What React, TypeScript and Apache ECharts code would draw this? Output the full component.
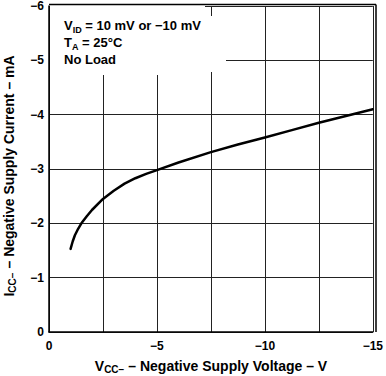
import React, { useEffect, useRef } from "react";
import * as echarts from "echarts";

const voltage = [-1.0, -1.1, -1.2, -1.35, -1.5, -1.75, -2.0, -2.5, -3.0, -3.5, -4.0, -4.5, -5.0, -6.0, -7.5, -8.75, -10, -11.25, -12.5, -13.75, -15];
const current = [-1.53, -1.67, -1.78, -1.9, -2.0, -2.13, -2.25, -2.45, -2.6, -2.73, -2.83, -2.91, -2.98, -3.12, -3.31, -3.45, -3.58, -3.715, -3.85, -3.975, -4.1];
const xTicks = [0, -5, -10, -15];
const yTicks = [0, -1, -2, -3, -4, -5, -6];

const FONT = "'Liberation Sans', Arial, Helvetica, sans-serif";
const fmt = (v: number) => (v === 0 ? "0" : "\u2212" + Math.abs(v));

export default function App() {
  const ref = useRef<HTMLDivElement>(null);
  useEffect(() => {
    if (!ref.current) return;
    const chart = echarts.init(ref.current, undefined, { renderer: "svg" });
    const lineStyle = { color: "#222", width: 1 };
    const nameRich = {
      a: { fontSize: 14, fontWeight: "bold", fill: "#000", fontFamily: FONT, lineHeight: 17 },
      s: { fontSize: 10, fontWeight: "bold", fill: "#000", fontFamily: FONT, lineHeight: 17, verticalAlign: "bottom", padding: [6, 0, 0, 0] },
    };
    chart.setOption({
      animation: false,
      backgroundColor: "#fff",
      textStyle: { fontFamily: FONT },
      grid: { left: 49, right: 10, top: 4, bottom: 44, show: false },
      xAxis: {
        type: "value",
        min: -15,
        max: 0,
        interval: 2.5,
        inverse: true,
        axisLine: { show: true, onZero: false, lineStyle: { color: "#000", width: 1.5 } },
        axisTick: { show: false },
        splitLine: { show: true, lineStyle },
        axisLabel: {
          margin: 8,
          color: "#000",
          fontWeight: "bold",
          fontSize: 12,
          fontFamily: FONT,
          formatter: (v: number) => (xTicks.includes(v) ? fmt(v) : ""),
        },
      },
      yAxis: {
        type: "value",
        min: -6,
        max: 0,
        interval: 1,
        inverse: true,
        axisLine: { show: true, onZero: false, lineStyle: { color: "#000", width: 1.5 } },
        axisTick: { show: false },
        splitLine: { show: true, lineStyle },
        axisLabel: {
          margin: 5,
          color: "#000",
          fontWeight: "bold",
          fontSize: 12,
          fontFamily: FONT,
          formatter: (v: number) => (yTicks.includes(v) ? fmt(v) : ""),
        },
      },
      graphic: [
        { type: "rect", z: 50, shape: { x: 50, y: 5, width: 155, height: 70 }, style: { fill: "#fff" } },
        { type: "rect", z: 50, shape: { x: 205, y: 16, width: 21, height: 56 }, style: { fill: "#fff" } },
        { type: "line", z: 60, shape: { x1: 49, y1: 4.5, x2: 376, y2: 4.5 }, style: { stroke: "#000", lineWidth: 1.5 } },
        { type: "line", z: 60, shape: { x1: 376, y1: 4.5, x2: 376, y2: 332 }, style: { stroke: "#000", lineWidth: 1.5 } },
        {
          type: "text",
          z: 60,
          x: 64,
          y: 17,
          style: {
            text: "{a|V}{s|ID}{a| = 10 mV or \u221210 mV}\n{a|T}{s|A}{a| = 25\u00b0C}\n{a|No Load}",
            rich: {
              a: { fontSize: 13, fontWeight: "bold", fill: "#000", fontFamily: FONT, lineHeight: 17 },
              s: { fontSize: 9, fontWeight: "bold", fill: "#000", fontFamily: FONT, lineHeight: 17, verticalAlign: "bottom", padding: [6, 0, 0, 0] },
            },
          },
        },
        {
          type: "text",
          z: 60,
          x: 211,
          y: 366,
          style: {
            text: "{a|V}{s|CC\u2212}{a| \u2013 Negative Supply Voltage \u2013 V}",
            align: "center",
            verticalAlign: "middle",
            rich: nameRich,
          },
        },
        {
          type: "text",
          z: 60,
          x: 9,
          y: 176,
          rotation: Math.PI / 2,
          style: {
            text: "{a|I}{s|CC\u2212}{a| \u2013 Negative Supply Current \u2013 mA}",
            align: "center",
            verticalAlign: "middle",
            rich: nameRich,
          },
        },
      ],
      series: [
        {
          type: "line",
          data: voltage.map((v, i) => [v, current[i]]),
          smooth: false,
          showSymbol: false,
          lineStyle: { color: "#000", width: 2.5, join: "round", cap: "round" },
          z: 10,
        },
      ],
    });
    return () => chart.dispose();
  }, []);
  return <div ref={ref} style={{ position: "fixed", left: 0, top: 0, width: 386, height: 376 }} />;
}
